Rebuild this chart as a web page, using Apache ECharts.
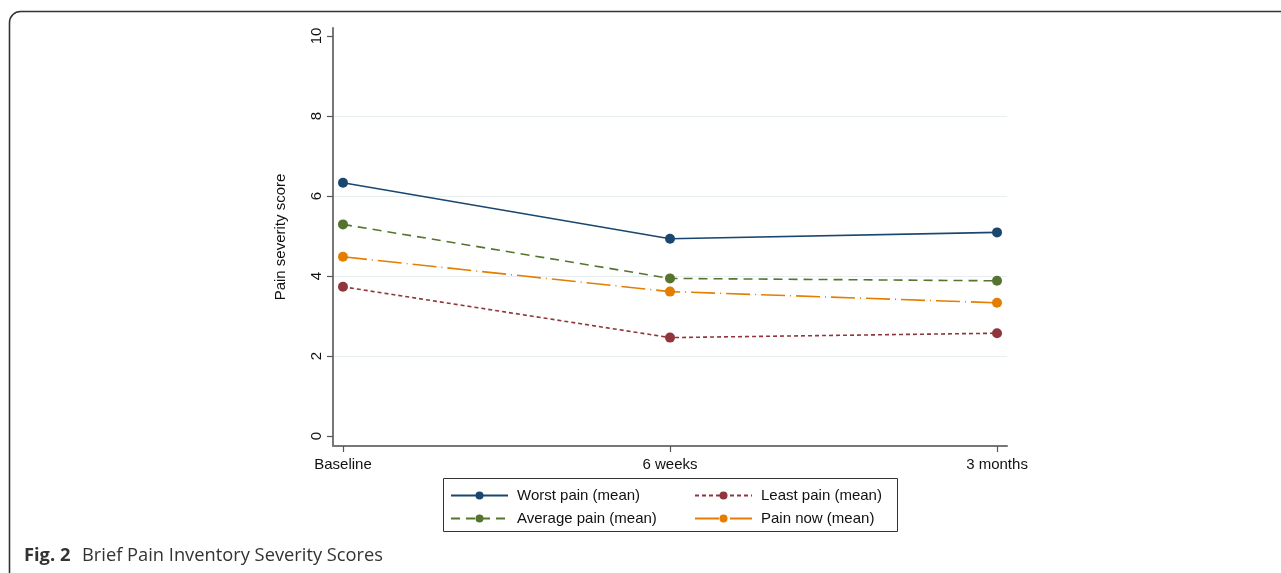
<!DOCTYPE html>
<html>
<head>
<meta charset="utf-8">
<script src="https://cdn.jsdelivr.net/npm/echarts@6/dist/echarts.min.js"></script>
<style>
html,body{margin:0;padding:0;background:#fff;}
#c{width:1281px;height:573px;}
</style>
</head>
<body>
<div id="c"></div>
<script>
const categories = ['Baseline', '6 weeks', '3 months'];
const worstPain = [6.33, 4.93, 5.09];
const averagePain = [5.29, 3.94, 3.88];
const painNow = [4.48, 3.61, 3.33];
const leastPain = [3.73, 2.46, 2.57];
const yTicks = [0, 2, 4, 6, 8, 10];
const seriesNames = ['Worst pain (mean)', 'Average pain (mean)', 'Pain now (mean)', 'Least pain (mean)'];

const chart = echarts.init(document.getElementById('c'));
const font = 'Liberation Sans, Arial, sans-serif';
function pts(arr){ return arr.map((v,i)=>[i,v]); }
function mk(name, data, color, type){
  return {
    name: name, type: 'line', data: pts(data),
    symbol: 'circle', symbolSize: 10,
    itemStyle: {color: color},
    lineStyle: {color: color, width: 1.6, type: type},
    emphasis: {disabled: true}, animation: false
  };
}
const gridC = '#e6eef0';
chart.setOption({
  animation: false,
  backgroundColor: '#fff',
  grid: {left: 333, right: 274, top: 28, bottom: 127, containLabel: false},
  xAxis: {
    type: 'value', min: -0.0305, max: 2.0305,
    axisLine: {show: true, onZero: false, lineStyle: {color: '#777', width: 2}},
    axisTick: {show: true, length: 6, customValues: [0,1,2], lineStyle: {color: '#555', width: 1.2}},
    axisLabel: {customValues: [0,1,2], formatter: v => categories[Math.round(v)], color: '#111', fontSize: 15, fontFamily: font, margin: 11},
    splitLine: {show: false}
  },
  yAxis: {
    type: 'value', min: -0.25, max: 10.2,
    name: 'Pain severity score', nameLocation: 'middle', nameGap: 45,
    nameTextStyle: {color: '#111', fontSize: 15, fontFamily: font},
    axisLine: {show: true, onZero: false, lineStyle: {color: '#777', width: 2}},
    axisTick: {show: true, length: 6, customValues: yTicks, lineStyle: {color: '#555', width: 1.2}},
    axisLabel: {customValues: yTicks, rotate: 90, color: '#111', fontSize: 15, fontFamily: font, margin: 9},
    splitLine: {show: true, lineStyle: {color: ['transparent', gridC, gridC, gridC, gridC, 'transparent'], width: 1}}
  },
  legend: [
    {
      data: [seriesNames[0], seriesNames[1]], orient: 'vertical', left: 450, top: 488,
      itemWidth: 57, itemHeight: 10, itemGap: 8,
      textStyle: {color: '#111', fontSize: 15, fontFamily: font, padding: [0,0,0,4]},
      selectedMode: false, padding: 0
    },
    {
      data: [seriesNames[3], seriesNames[2]], orient: 'vertical', left: 694, top: 488,
      itemWidth: 57, itemHeight: 10, itemGap: 8,
      textStyle: {color: '#111', fontSize: 15, fontFamily: font, padding: [0,0,0,4]},
      selectedMode: false, padding: 0
    }
  ],
  graphic: [
    {type: 'rect', shape: {x: 9.5, y: 11.5, width: 1320, height: 620, r: 11}, style: {fill: 'none', stroke: '#333', lineWidth: 1.6}, silent: true},
    {type: 'rect', shape: {x: 443.5, y: 478.5, width: 454, height: 53}, style: {fill: 'none', stroke: '#333', lineWidth: 1}, silent: true, z: -1},
    {type: 'text', left: 24, top: 547, style: {text: 'Fig. 2', font: 'bold 18.3px "Open Sans", "Noto Sans", sans-serif', fill: '#333'}},
    {type: 'text', left: 82, top: 547, style: {text: 'Brief Pain Inventory Severity Scores', font: '18.3px "Open Sans", "Noto Sans", sans-serif', fill: '#333'}}
  ],
  series: [
    mk(seriesNames[0], worstPain, '#1a476f', 'solid'),
    mk(seriesNames[1], averagePain, '#55752f', [9, 6]),
    mk(seriesNames[2], painNow, '#e37e00', [24, 5, 1, 5]),
    mk(seriesNames[3], leastPain, '#90353b', [4, 3])
  ]
});
</script>
</body>
</html>
